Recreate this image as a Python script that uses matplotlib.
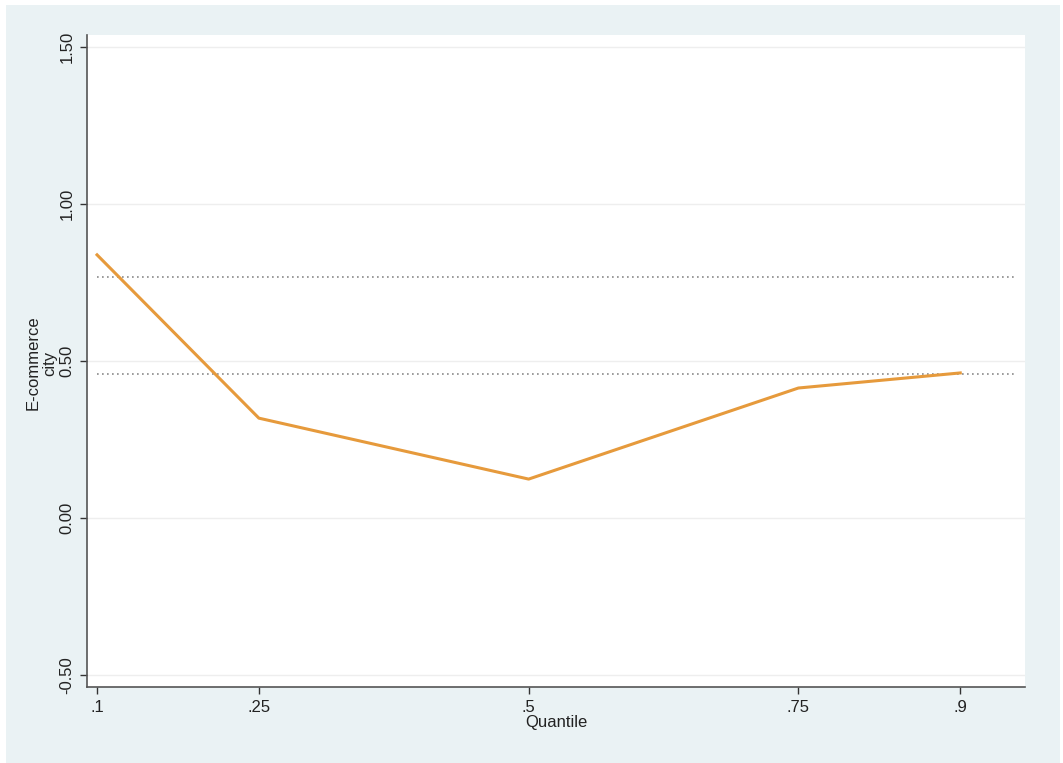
import matplotlib.pyplot as plt
from matplotlib.patches import Rectangle

plt.rcParams["font.family"] = ["Liberation Sans", "DejaVu Sans"]

# quantile regression coefficients for the e-commerce city dummy
quantiles = [0.1, 0.25, 0.5, 0.75, 0.9]
coef = [0.838, 0.318, 0.124, 0.414, 0.462]

# OLS reference lines
ols_lines = [0.767, 0.459]

xtick_labels = [".1", ".25", ".5", ".75", ".9"]
yticks = [-0.5, 0.0, 0.5, 1.0, 1.5]
ytick_labels = ["-0.50", "0.00", "0.50", "1.00", "1.50"]
ylabel_lines = ["E-commerce", "city"]

W, H = 1063, 763
fig = plt.figure(figsize=(W / 100, H / 100), dpi=100, facecolor="white")
fig.patches.append(Rectangle((6 / W, 0), (1060 - 6) / W, (H - 5) / H,
                             transform=fig.transFigure, facecolor="#EAF2F4",
                             edgecolor="none", zorder=-10))

left, right, top, bottom = 87, 1025, 35, 687
ax = fig.add_axes([left / W, 1 - bottom / H, (right - left) / W, (bottom - top) / H])
ax.set_facecolor("white")

ax.set_xlim(0.0907, 0.960)
ax.set_ylim(-0.538, 1.538)

for v in yticks:
    ax.axhline(v, color="#EEEEEE", lw=1.0, zorder=0)

for v in ols_lines:
    ax.hlines(v, 0.1, 0.95, colors="#8A8A8A", linestyles=(0, (1, 2)), lw=1.2, zorder=1)

ax.plot(quantiles, coef, color="#E69A3C", lw=2.2, zorder=3)

ax.set_xticks(quantiles)
ax.set_xticklabels(xtick_labels, fontsize=12)
ax.set_yticks(yticks)
ax.set_yticklabels(ytick_labels, rotation=90, va="center", fontsize=12)
ax.tick_params(axis="both", colors="#333333", length=5, width=1, pad=4)
ax.tick_params(axis="x", labelcolor="#222222")
ax.tick_params(axis="y", labelcolor="#222222")

for s in ["top", "right"]:
    ax.spines[s].set_visible(False)
for s in ["left", "bottom"]:
    ax.spines[s].set_color("#555555")
    ax.spines[s].set_linewidth(1.2)

ax.set_xlabel("Quantile", fontsize=12, color="#222222", labelpad=0)

# two-line y title, stacked left to right
for xpix, txt in zip([33, 50], ylabel_lines):
    fig.text(xpix / W, 1 - 363 / H, txt, rotation=90, ha="center", va="center",
             fontsize=12, color="#222222")

fig.savefig("out.png", dpi=100, facecolor=fig.get_facecolor())
